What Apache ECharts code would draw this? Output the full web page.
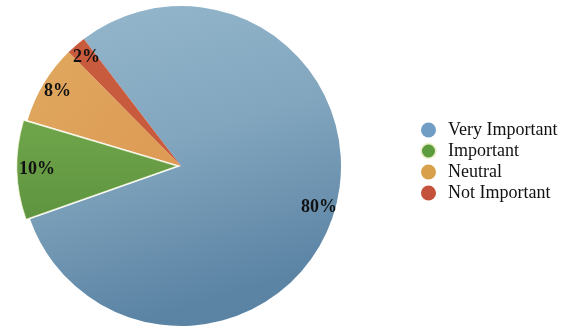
<!DOCTYPE html>
<html>
<head>
<meta charset="utf-8">
<style>
  html, body { margin: 0; padding: 0; background: #ffffff; }
  #chart { width: 563px; height: 329px; }
</style>
<script src="https://cdn.jsdelivr.net/npm/echarts@6/dist/echarts.min.js"></script>
</head>
<body>
<div id="chart"></div>
<script>
// Survey answer shares, in percent
const categories = ['Very Important', 'Important', 'Neutral', 'Not Important'];
const shares = [80, 10, 8, 2];
const legendColors = ['#6f9dc4', '#5c9c3d', '#d9a04c', '#c4513a'];

const sliceFills = [
  { type: 'linear', x: 0, y: 0, x2: 0.3, y2: 1, colorStops: [
    { offset: 0, color: '#95b8cd' }, { offset: 0.5, color: '#82a6be' }, { offset: 1, color: '#5b83a4' } ] },
  { type: 'linear', x: 0, y: 0, x2: 0, y2: 1, colorStops: [
    { offset: 0, color: '#6fa54a' }, { offset: 1, color: '#5f9440' } ] },
  { type: 'linear', x: 0, y: 0, x2: 1, y2: 1, colorStops: [
    { offset: 0, color: '#e0a85e' }, { offset: 1, color: '#dd9a55' } ] },
  '#c85a3d'
];

const chart = echarts.init(document.getElementById('chart'), null, { renderer: 'canvas' });

const center = [181, 166];
const startAngle = 127.4;

chart.setOption({
  animation: false,
  backgroundColor: '#ffffff',
  legend: {
    orient: 'vertical',
    left: 415,
    top: 116,
    icon: 'circle',
    itemWidth: 15,
    itemHeight: 15,
    itemGap: 3,
    selectedMode: false,
    textStyle: {
      fontFamily: 'Liberation Serif',
      fontSize: 18,
      lineHeight: 16,
      color: '#111111',
      padding: [0, 0, 0, 7]
    },
    data: categories.map((name, i) => ({ name, itemStyle: { color: legendColors[i] } }))
  },
  series: [
    {
      type: 'pie',
      z: 2,
      center: center,
      radius: [0, 160],
      startAngle: startAngle,
      clockwise: true,
      silent: true,
      selectedMode: 'single',
      selectedOffset: 4,
      label: { show: false },
      labelLine: { show: false },
      itemStyle: { borderWidth: 0 },
      data: categories.map((name, i) => ({
        name,
        value: shares[i],
        selected: i === 1,
        itemStyle: i === 1
          ? { color: sliceFills[i], borderColor: 'rgba(245,245,215,0.9)', borderWidth: 0.8 }
          : { color: sliceFills[i] }
      }))
    },
    {
      // transparent ring that only carries the percentage labels near the rim
      type: 'pie',
      z: 5,
      center: center,
      radius: [121, 161],
      startAngle: startAngle,
      clockwise: true,
      silent: true,
      itemStyle: { color: 'rgba(0,0,0,0)' },
      label: {
        show: true,
        position: 'inside',
        formatter: '{c}%',
        fontFamily: 'Liberation Serif',
        fontWeight: 'bold',
        fontSize: 18,
        color: '#111111'
      },
      labelLine: { show: false },
      data: categories.map((name, i) => ({ name, value: shares[i] }))
    }
  ]
});
</script>
</body>
</html>
